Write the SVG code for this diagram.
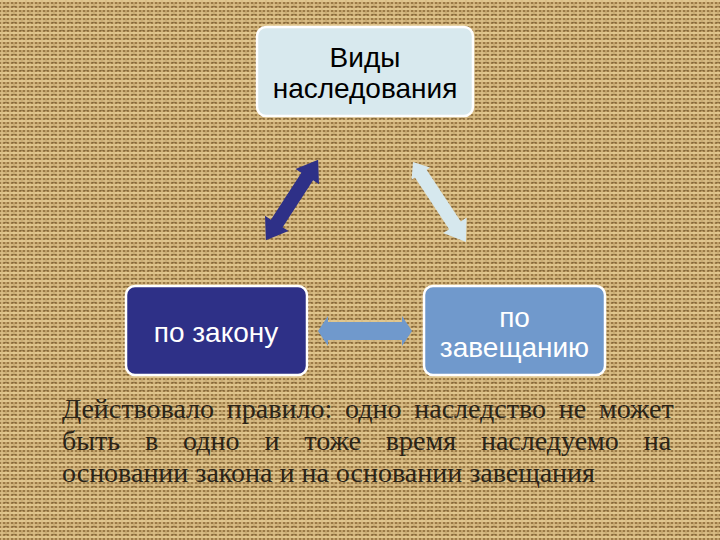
<svg xmlns="http://www.w3.org/2000/svg" width="720" height="540" viewBox="0 0 720 540">
<defs>
<pattern id="burlap" width="8" height="8" patternUnits="userSpaceOnUse">
<rect width="8" height="8" fill="#9b7a46"/>
<rect x="0" y="0" width="8" height="2" fill="#e0c68e"/>
<rect x="0" y="4" width="8" height="2" fill="#d2b67e"/>
<rect x="1" y="0" width="2" height="8" fill="#d9bd84" opacity="0.8"/>
<rect x="5" y="2" width="2" height="6" fill="#c9aa70" opacity="0.8"/>
<rect x="4" y="6" width="4" height="1" fill="#6e532b" opacity="0.5"/>
</pattern>
<style>
.box{stroke:#ffffff;stroke-width:2.5}
.lbl{font-family:"Liberation Sans",Arial,sans-serif;font-size:28px;text-anchor:middle}
.para{font-family:"Liberation Serif","Times New Roman",serif;font-size:28px;fill:#2a2418}
</style>
</defs>
<rect width="720" height="540" fill="url(#burlap)"/>
<g id="connectors">
<polygon fill="#2e3087" transform="translate(292,200) rotate(-57)" points="-48,0 -28,-14 -28,-7 28,-7 28,-14 48,0 28,14 28,7 -28,7 -28,14"/>
<polygon fill="#d6e8ee" transform="translate(439.5,202) rotate(56.5)" points="-48,0 -34,-11 -34,-7 28,-7 28,-14 48,0 28,14 28,7 -34,7 -34,11"/>
<polygon fill="#7099cc" points="318,331 328,316 328,322 402,322 402,316 412,331 402,346 402,340 328,340 328,346"/>
</g>
<g id="node-top">
<rect class="box" x="257" y="27" width="216" height="89" rx="9" fill="#d8e9ee"/>
<text class="lbl" x="365" y="67" fill="#000000">Виды</text>
<text class="lbl" x="365" y="98" fill="#000000">наследования</text>
</g>
<g id="node-left">
<rect class="box" x="126" y="286" width="181" height="89" rx="9" fill="#2e3087"/>
<text class="lbl" x="216" y="342" fill="#ffffff">по закону</text>
</g>
<g id="node-right">
<rect class="box" x="424" y="286" width="181" height="89" rx="9" fill="#7099cc"/>
<text class="lbl" x="514.5" y="327" fill="#ffffff">по</text>
<text class="lbl" x="514.5" y="357" fill="#ffffff">завещанию</text>
</g>
<g id="paragraph">
<text class="para" x="62" y="418" word-spacing="5.8">Действовало правило: одно наследство не может</text>
<text class="para" x="62" y="450" word-spacing="17.9">быть в одно и тоже время наследуемо на</text>
<text class="para" x="62" y="482">основании закона и на основании завещания</text>
</g>
</svg>
